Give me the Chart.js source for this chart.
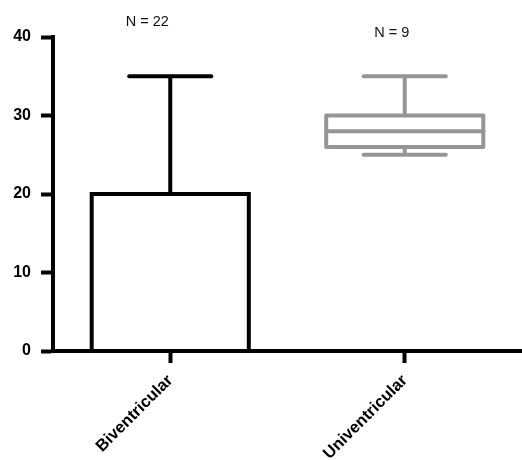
<!DOCTYPE html>
<html>
<head>
<meta charset="utf-8">
<script src="https://cdn.jsdelivr.net/npm/chart.js@4/dist/chart.umd.min.js"></script>
<style>
  html, body { margin: 0; padding: 0; background: #fff; overflow: hidden; }
  #wrap { width: 522px; height: 460px; position: relative; }
</style>
</head>
<body>
<div id="wrap"><canvas id="boxChart"></canvas></div>
<script>
// dados
const categories = ['Biventricular', 'Univentricular'];
const boxLow = [0, 26];      // Q1
const boxHigh = [20, 30];    // Q3
const medians = [null, 28];
const whiskerMin = [0, 25];
const whiskerMax = [35, 35];
const groupN = ['N = 22', 'N = 9'];
const yTicks = [0, 10, 20, 30, 40];

const lineColors = ['#000000', '#969696'];

// desenha caixas, bigodes e medianas a partir das escalas do Chart.js
const boxPlotPlugin = {
    id: 'boxPlot',
    afterDatasetsDraw(chart) {
        const ctx = chart.ctx;
        const y = chart.scales.y;
        const x = chart.scales.x;
        const meta = chart.getDatasetMeta(0);
        ctx.save();
        ctx.lineWidth = 4;
        meta.data.forEach((bar, i) => {
            const props = bar.getProps(['x', 'y', 'base', 'width'], true);
            const left = props.x - props.width / 2;
            const right = props.x + props.width / 2;
            const top = y.getPixelForValue(boxHigh[i]);
            const bottom = y.getPixelForValue(boxLow[i]);
            const capHalf = (x.width / categories.length) * 0.175;
            ctx.strokeStyle = lineColors[i];
            ctx.lineJoin = i === 1 ? 'round' : 'miter';
            ctx.lineCap = 'round';

            // caixa
            ctx.strokeRect(left, top, right - left, bottom - top);

            // mediana
            if (medians[i] !== null) {
                const my = y.getPixelForValue(medians[i]);
                ctx.beginPath();
                ctx.moveTo(left, my);
                ctx.lineTo(right, my);
                ctx.stroke();
            }

            // bigode superior
            const yMax = y.getPixelForValue(whiskerMax[i]);
            ctx.lineCap = 'butt';
            ctx.beginPath();
            ctx.moveTo(props.x, top);
            ctx.lineTo(props.x, yMax);
            ctx.stroke();
            ctx.lineCap = 'round';
            ctx.beginPath();
            ctx.moveTo(props.x - capHalf, yMax);
            ctx.lineTo(props.x + capHalf, yMax);
            ctx.stroke();

            // bigode inferior
            if (whiskerMin[i] < boxLow[i]) {
                const yMin = y.getPixelForValue(whiskerMin[i]);
                ctx.lineCap = 'butt';
                ctx.beginPath();
                ctx.moveTo(props.x, bottom);
                ctx.lineTo(props.x, yMin);
                ctx.stroke();
                ctx.lineCap = 'round';
                ctx.beginPath();
                ctx.moveTo(props.x - capHalf, yMin);
                ctx.lineTo(props.x + capHalf, yMin);
                ctx.stroke();
            }
        });

        // rótulos N
        ctx.fillStyle = '#111';
        ctx.font = '14.5px "Liberation Sans", Arial, sans-serif';
        ctx.textAlign = 'center';
        ctx.textBaseline = 'alphabetic';
        const nOffsets = [[-23, -11], [-13, 0]];
        meta.data.forEach((bar, i) => {
            ctx.fillText(groupN[i], bar.x + nOffsets[i][0], y.top + nOffsets[i][1]);
        });
        ctx.restore();
    }
};

const ctxChart = document.getElementById('boxChart');
new Chart(ctxChart, {
    type: 'bar',
    data: {
        labels: categories,
        datasets: [{
            label: 'Caixa',
            data: categories.map((c, i) => [boxLow[i], boxHigh[i]]),
            backgroundColor: 'rgba(255,255,255,1)',
            borderWidth: 0,
            barPercentage: 0.67,
            categoryPercentage: 1.0
        }]
    },
    options: {
        responsive: true,
        maintainAspectRatio: false,
        animation: false,
        layout: {
            padding: { top: 37, left: 0, right: 0, bottom: 0 }
        },
        plugins: {
            legend: { display: false },
            tooltip: { enabled: false }
        },
        scales: {
            x: {
                offset: true,
                border: { display: true, color: '#000', width: 4 },
                grid: {
                    display: true,
                    drawOnChartArea: false,
                    drawTicks: true,
                    tickLength: 12,
                    tickWidth: 4,
                    tickColor: '#000',
                    offset: false
                },
                ticks: {
                    color: '#000',
                    font: { family: '"Liberation Sans", Arial, sans-serif', size: 16.5, weight: 'bold' },
                    minRotation: 45,
                    maxRotation: 45,
                    padding: 8
                },
                afterFit(scale) { scale.height = 109; }
            },
            y: {
                min: 0,
                max: 40,
                border: { display: true, color: '#000', width: 4 },
                grid: {
                    display: true,
                    drawOnChartArea: false,
                    drawTicks: true,
                    tickLength: 12,
                    tickWidth: 4,
                    tickColor: '#000'
                },
                afterBuildTicks(scale) {
                    scale.ticks = yTicks.map(v => ({ value: v }));
                },
                ticks: {
                    color: '#000',
                    font: { family: '"Liberation Sans", Arial, sans-serif', size: 16, weight: 'bold' },
                    padding: 10
                },
                afterFit(scale) { scale.width = 53; }
            }
        }
    },
    plugins: [boxPlotPlugin]
});
</script>
</body>
</html>
